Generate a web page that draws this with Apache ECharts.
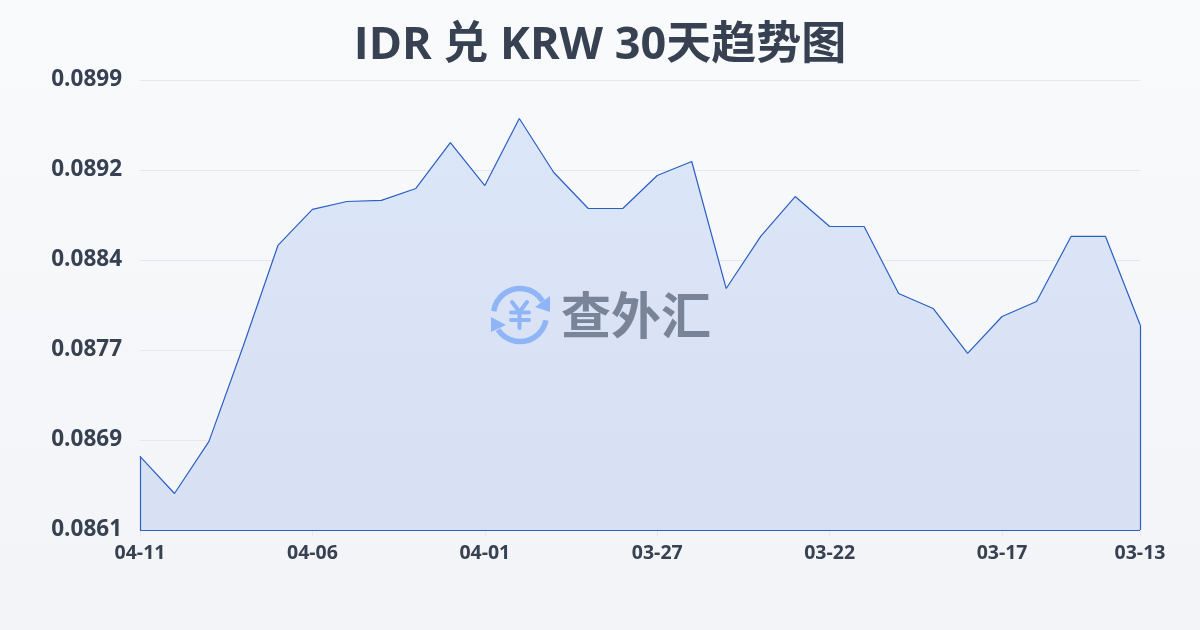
<!DOCTYPE html>
<html><head><meta charset="utf-8">
<style>html,body{margin:0;padding:0;width:1200px;height:630px;overflow:hidden}#c{width:1200px;height:630px}</style>
<script src="https://cdn.jsdelivr.net/npm/echarts@6/dist/echarts.min.js"></script>
</head><body><div id="c"></div>
<script>
const titleText = 'IDR 兑 KRW 30天趋势图';
const categories = ['04-11','04-10','04-09','04-08','04-07','04-06','04-05','04-04','04-03','04-02','04-01','03-31','03-30','03-29','03-28','03-27','03-26','03-25','03-24','03-23','03-22','03-21','03-20','03-19','03-18','03-17','03-16','03-15','03-14','03-13'];
const rates = [0.086761,0.086448,0.086888,0.087698,0.088543,0.088847,0.088914,0.088923,0.089024,0.089412,0.089049,0.089615,0.089159,0.088855,0.088855,0.089134,0.089252,0.088179,0.088619,0.088956,0.088703,0.088703,0.088137,0.088011,0.087631,0.087943,0.088070,0.088619,0.088619,0.087875];
const yTicks = [0.08614,0.0869,0.08766,0.08842,0.08918,0.08994];
const yMin = 0.08614, yMax = 0.08994;
const watermark = '查外汇';

const FONT = '"Open Sans","Noto Sans CJK SC",sans-serif';
const chart = echarts.init(document.getElementById('c'), null, {renderer:'canvas'});
const LINE = '#2b5fc4';
const N = categories.length - 1;
const ICON = '#8fb5f7';
const iconLine = (pts)=>({type:'polyline',z:10,silent:true,shape:{points:pts},style:{stroke:ICON,lineWidth:4,fill:null,lineCap:'round',lineJoin:'round'}});
chart.setOption({
  animation:false,
  backgroundColor:{type:'linear',x:0,y:0,x2:0,y2:1,colorStops:[{offset:0,color:'#f9fafc'},{offset:1,color:'#f2f4f7'}]},
  title:{text:titleText,left:'center',top:19,textStyle:{fontFamily:FONT,fontSize:45,fontWeight:'bold',color:'#374151'}},
  grid:{left:140,right:60,top:80,bottom:100},
  xAxis:{type:'category',boundaryGap:false,data:categories,
    axisLine:{show:false},
    axisTick:{show:true,length:6,lineStyle:{color:'#e5e7eb'},interval:(i)=>i%5===0||i===N},
    axisLabel:{interval:(i)=>i%5===0||i===N,showMaxLabel:true,hideOverlap:false,margin:14,fontFamily:FONT,fontSize:19.5,fontWeight:'bold',color:'#374151'},
    splitLine:{show:false}},
  yAxis:{type:'value',min:yMin,max:yMax,
    axisLine:{show:false},axisTick:{show:false,customValues:yTicks},
    axisLabel:{customValues:yTicks,margin:18,padding:[0,0,4,0],fontFamily:FONT,fontSize:22.5,fontWeight:'bold',color:'#374151',formatter:v=>v.toFixed(4)},
    splitLine:{show:true,lineStyle:{color:'#e5e7eb',width:1}}},
  graphic:{elements:[
    {type:'arc',z:10,silent:true,shape:{cx:520,cy:315,r:26.5,startAngle:-3.0,endAngle:-0.55},style:{stroke:ICON,lineWidth:5.5,fill:null}},
    {type:'arc',z:10,silent:true,shape:{cx:520,cy:315,r:26.5,startAngle:0.2,endAngle:2.55},style:{stroke:ICON,lineWidth:5.5,fill:null}},
    {type:'polygon',z:10,silent:true,shape:{points:[[550,296],[550,312],[535,307]]},style:{fill:ICON}},
    {type:'polygon',z:10,silent:true,shape:{points:[[491,317],[491,332],[506,325]]},style:{fill:ICON}},
    iconLine([[512,302],[519.5,312],[527,302]]),
    iconLine([[511,312.5],[529,312.5]]),
    iconLine([[511,320],[529,320]]),
    iconLine([[519.5,312],[519.5,328]]),
    {type:'text',z:10,silent:true,style:{text:watermark,x:636,y:315,align:'center',verticalAlign:'middle',font:'bold 50px "Noto Sans CJK SC"',fill:'#7a8499'}}
  ]},
  series:[{type:'line',data:rates,symbol:'none',smooth:false,
    lineStyle:{color:LINE,width:1.2},
    areaStyle:{color:{type:'linear',x:0,y:0,x2:0,y2:1,colorStops:[{offset:0,color:'#dbe6f8'},{offset:1,color:'#d8e0f3'}]},opacity:1},
    markLine:{silent:true,symbol:'none',label:{show:false},lineStyle:{color:LINE,width:1.2,type:'solid'},animation:false,
      data:[
        [{coord:[categories[0],yMin]},{coord:[categories[0],rates[0]]}],
        [{coord:[categories[0],yMin]},{coord:[categories[N],yMin]}],
        [{coord:[categories[N],yMin]},{coord:[categories[N],rates[N]]}]
      ]}
  }]
});
</script></body></html>
